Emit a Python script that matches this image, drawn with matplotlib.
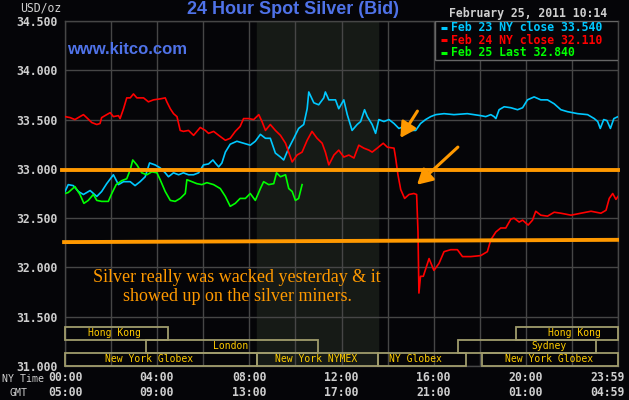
# kitco 24 hour spot silver chart


import matplotlib
matplotlib.use('Agg')
import matplotlib.pyplot as plt
from matplotlib.patches import Rectangle

# Feb 23 NY close (cyan)
cyan_hours = [0, 0.14, 0.36, 0.58, 0.8, 1.09, 1.38, 1.59, 1.81, 2.1, 2.32, 2.54, 2.83, 3.04, 3.26, 3.48,
              3.67, 3.91, 4.13, 4.35, 4.49, 4.71, 4.93, 5.14, 5.36, 5.58, 5.8, 6.01, 6.23, 6.42, 6.52,
              6.67, 6.81, 6.96, 7.17, 7.46, 7.75, 8.04, 8.26, 8.48, 8.7, 8.91, 9.13, 9.35, 9.49, 9.71,
              9.93, 10.14, 10.36, 10.51, 10.58, 10.8, 11.01, 11.23, 11.3, 11.45, 11.74, 11.88, 12.1,
              12.25, 12.46, 12.68, 12.83, 13.0, 13.12, 13.33, 13.48, 13.62, 13.84, 14.06, 14.28, 14.49,
              14.71, 15.0, 15.22, 15.43, 15.65, 15.87, 16.09, 16.45, 16.88, 17.46, 18.04, 18.26, 18.48,
              18.62, 18.7, 18.84, 19.06, 19.35, 19.64, 19.86, 20.07, 20.36, 20.65, 20.94, 21.23, 21.52,
              21.81, 22.25, 22.68, 22.97, 23.12, 23.23, 23.38, 23.52, 23.67, 23.82, 24.0]
cyan_values = [32.77, 32.84, 32.83, 32.77, 32.74, 32.78, 32.72, 32.77, 32.85, 32.94, 32.84, 32.87, 32.87,
               32.83, 32.87, 32.92, 33.06, 33.04, 33.01, 32.96, 32.92, 32.96, 32.94, 32.96, 32.94, 32.94,
               32.96, 33.04, 33.05, 33.09, 33.06, 33.02, 33.06, 33.17, 33.25, 33.28, 33.26, 33.24, 33.28,
               33.35, 33.31, 33.31, 33.16, 33.12, 33.09, 33.21, 33.31, 33.41, 33.45, 33.61, 33.78, 33.67,
               33.65, 33.72, 33.78, 33.70, 33.70, 33.61, 33.70, 33.55, 33.39, 33.45, 33.48, 33.60, 33.53,
               33.45, 33.36, 33.50, 33.48, 33.50, 33.46, 33.41, 33.43, 33.39, 33.39, 33.46, 33.50, 33.53,
               33.55, 33.56, 33.55, 33.56, 33.54, 33.53, 33.55, 33.53, 33.51, 33.60, 33.63, 33.62, 33.60,
               33.62, 33.70, 33.73, 33.70, 33.70, 33.66, 33.60, 33.58, 33.56, 33.55, 33.51, 33.48, 33.41,
               33.50, 33.49, 33.41, 33.51, 33.53]

# Feb 24 NY close (red)
red_hours = [0, 0.22, 0.43, 0.65, 0.8, 0.94, 1.16, 1.38, 1.52, 1.59, 1.81, 1.96, 2.1, 2.32, 2.39, 2.54,
             2.68, 2.83, 2.97, 3.12, 3.41, 3.62, 3.84, 4.13, 4.35, 4.42, 4.57, 4.71, 4.86, 5.0, 5.14,
             5.36, 5.58, 5.87, 6.09, 6.23, 6.45, 6.67, 6.96, 7.17, 7.39, 7.6, 7.75, 7.97, 8.19, 8.41,
             8.55, 8.7, 8.91, 9.13, 9.35, 9.57, 9.86, 10.07, 10.29, 10.51, 10.72, 10.94, 11.16, 11.3,
             11.45, 11.67, 11.88, 12.1, 12.32, 12.54, 12.75, 12.97, 13.19, 13.33, 13.55, 13.81, 13.99,
             14.28, 14.35, 14.45, 14.57, 14.74, 14.93, 15.14, 15.26, 15.32, 15.36, 15.43, 15.55, 15.8,
             16.01, 16.23, 16.45, 16.74, 17.03, 17.25, 17.61, 18.04, 18.33, 18.48, 18.7, 18.91, 19.13,
             19.35, 19.49, 19.71, 19.86, 20.1, 20.29, 20.43, 20.65, 20.94, 21.23, 21.52, 21.96, 22.39,
             22.83, 23.26, 23.48, 23.62, 23.77, 23.91, 24.0]
red_values = [33.53, 33.52, 33.50, 33.53, 33.55, 33.52, 33.47, 33.45, 33.46, 33.52, 33.55, 33.57, 33.53,
              33.54, 33.51, 33.61, 33.72, 33.72, 33.76, 33.72, 33.72, 33.68, 33.70, 33.71, 33.72, 33.68,
              33.61, 33.56, 33.53, 33.39, 33.38, 33.39, 33.34, 33.42, 33.39, 33.36, 33.38, 33.34, 33.29,
              33.31, 33.38, 33.43, 33.51, 33.51, 33.50, 33.55, 33.48, 33.39, 33.45, 33.39, 33.34, 33.26,
              33.07, 33.14, 33.17, 33.29, 33.38, 33.31, 33.26, 33.17, 33.04, 33.14, 33.19, 33.12, 33.14,
              33.11, 33.24, 33.21, 33.19, 33.17, 33.21, 33.26, 33.22, 33.21, 33.11, 32.94, 32.79, 32.70,
              32.74, 32.75, 32.74, 32.36, 31.74, 31.91, 31.91, 32.09, 31.97, 32.04, 32.16, 32.18, 32.18,
              32.11, 32.11, 32.12, 32.16, 32.28, 32.36, 32.40, 32.40, 32.49, 32.50, 32.46, 32.48, 32.43,
              32.48, 32.57, 32.53, 32.52, 32.56, 32.55, 32.53, 32.55, 32.57, 32.55, 32.58, 32.70, 32.75,
              32.69, 32.72]

# Feb 25 last (green)
green_hours = [0, 0.14, 0.43, 0.65, 0.82, 1.01, 1.23, 1.38, 1.59, 1.88, 2.03, 2.22, 2.46, 2.68, 2.83,
               2.94, 3.12, 3.33, 3.55, 3.77, 3.99, 4.13, 4.35, 4.57, 4.78, 5.0, 5.22, 5.29, 5.51, 5.72,
               5.94, 6.16, 6.45, 6.74, 6.96, 7.17, 7.39, 7.6, 7.83, 8.04, 8.26, 8.48, 8.62, 8.84, 9.06,
               9.18, 9.35, 9.57, 9.71, 9.86, 10.0, 10.14, 10.29]
green_values = [32.75, 32.76, 32.82, 32.74, 32.65, 32.68, 32.74, 32.68, 32.67, 32.67, 32.75, 32.84, 32.88,
                32.90, 32.99, 33.09, 33.04, 32.96, 32.94, 32.97, 32.96, 32.89, 32.77, 32.68, 32.67, 32.70,
                32.75, 32.89, 32.87, 32.85, 32.84, 32.86, 32.84, 32.80, 32.72, 32.62, 32.65, 32.70, 32.70,
                32.75, 32.68, 32.80, 32.87, 32.84, 32.85, 32.96, 32.92, 32.94, 32.80, 32.77, 32.68, 32.70,
                32.84]

# hand drawn orange lines
upper_hours = [-0.13, 24.0]
upper_values = [32.99, 32.99]
lower_hours = [-0.04, 23.96]
lower_values = [32.257, 32.28]

legend_labels = ['Feb 23 NY close 33.540', 'Feb 24 NY close 32.110', 'Feb 25 Last 32.840']
legend_colors = ['#00c8ff', '#ff0000', '#00ff00']

ny_labels = ['00:00', '04:00', '08:00', '12:00', '16:00', '20:00', '23:59']
gmt_labels = ['05:00', '09:00', '13:00', '17:00', '21:00', '01:00', '04:59']
tick_hours = [0, 3.95, 8, 12, 16, 20, 23.55]

session_names = ['Hong Kong', 'Hong Kong', 'London', 'Sydney',
                 'New York Globex', 'New York NYMEX', 'NY Globex', 'New York Globex']
session_start = [0, 19.56, 3.53, 17.04, 0, 8.35, 13.57, 18.1]
session_end = [4.46, 24, 10.98, 23.04, 8.35, 13.57, 17.4, 24]
session_row = [0, 0, 1, 1, 2, 2, 2, 2]
session_text_x = [2.13, 22.1, 7.17, 21.0, 3.65, 10.9, 15.2, 21.0]

nymex_open, nymex_close = 8.35, 13.6

bg = '#050508'
gridc = '#464646'
grey = '#cfcfcf'
blue = '#4f72e8'
orange = '#ff9900'
mono = 'DejaVu Sans Mono'

fig = plt.figure(figsize=(6.29, 4.0), dpi=100, facecolor=bg)
ax = fig.add_axes([65 / 629, 1 - 366 / 400, 553 / 629, 345 / 400])
ax.set_facecolor(bg)
ax.set_xlim(0, 24)
ax.set_ylim(31.0, 34.5)

ax.axvspan(nymex_open, nymex_close, color='#161a16', zorder=0)

ax.set_xticks(range(0, 25, 2))
ax.set_xticklabels([])
ax.set_yticks([31.0, 31.5, 32.0, 32.5, 33.0, 33.5, 34.0, 34.5])
ax.set_yticklabels(['%.3f' % v for v in ax.get_yticks()], family=mono, weight='bold',
                   fontsize=8.3, color=grey)
ax.tick_params(length=0, pad=5)
ax.grid(color=gridc, lw=1)
ax.set_axisbelow(True)
for s in ax.spines.values():
    s.set_color(gridc)
    s.set_linewidth(1)

ax.plot(cyan_hours, cyan_values, color=legend_colors[0], lw=1.2, zorder=3)
ax.plot(red_hours, red_values, color=legend_colors[1], lw=1.2, zorder=3)
ax.plot(green_hours, green_values, color=legend_colors[2], lw=1.2, zorder=3)

ax.plot(upper_hours, upper_values, color=orange, lw=2.8, clip_on=False, zorder=5)
ax.plot(lower_hours, lower_values, color=orange, lw=2.8, clip_on=False, zorder=5)

arrow = dict(arrowstyle='-|>,head_length=0.9,head_width=0.5', color=orange, lw=2.2)
ax.annotate('', xy=(14.49, 33.29), xytext=(15.36, 33.61), arrowprops=arrow, zorder=6)
ax.annotate('', xy=(15.19, 32.82), xytext=(17.14, 33.24), arrowprops=arrow, zorder=6)

ax.text(7.47, 31.80, 'Silver really was wacked yesterday & it\nshowed up on the silver miners.',
        family='Liberation Serif', fontsize=13, color=orange, ha='center', va='center',
        linespacing=1.2, zorder=6)

# trading session boxes
row_h = (31.4 - 31.0) / 3
for name, s, e, r, tx in zip(session_names, session_start, session_end, session_row, session_text_x):
    y0 = 31.4 - (r + 1) * row_h
    ax.add_patch(Rectangle((s, y0), e - s, row_h, fill=False, edgecolor='#a09c6c', lw=1.3,
                           zorder=4, clip_on=False))
    ax.text(tx, y0 + row_h / 2, name, family=mono, fontsize=7, color='#ffcc00',
            ha='center', va='center', zorder=5)

# legend box
ax.add_patch(Rectangle((16.04, 34.104), 24 - 16.04, 34.5 - 34.104, facecolor=bg,
                       edgecolor='#666666', lw=1, zorder=7))
for i, (lab, col) in enumerate(zip(legend_labels, legend_colors)):
    yy = 34.429 - i * 0.125
    ax.plot([16.33, 16.59], [yy, yy], color=col, lw=2.2, zorder=8, solid_capstyle='butt')
    ax.text(16.77, yy, lab, family=mono, weight='bold', fontsize=8.3, color=col,
            va='center', ha='left', zorder=8)

# time axis labels
tr = ax.get_xaxis_transform()
for h, a, b in zip(tick_hours, ny_labels, gmt_labels):
    ax.text(h, -0.034, a, transform=tr, family=mono, weight='bold', fontsize=8.3,
            color=grey, ha='center', va='center', clip_on=False)
    ax.text(h, -0.077, b, transform=tr, family=mono, weight='bold', fontsize=8.3,
            color=grey, ha='center', va='center', clip_on=False)
fig.text(44 / 629, 1 - 379 / 400, 'NY Time', family=mono, fontsize=7.1, color=grey,
         ha='right', va='center')
fig.text(19 / 629, 1 - 393 / 400, 'GMT', family=mono, fontsize=7.1, color=grey,
         ha='center', va='center')

fig.text(41 / 629, 1 - 8 / 400, 'USD/oz', family=mono, fontsize=8.3, color=grey,
         ha='center', va='center')
fig.text(293 / 629, 1 - 10 / 400, '24 Hour Spot Silver (Bid)', family='Liberation Sans',
         weight='bold', fontsize=13, color=blue, ha='center', va='center')
fig.text(607 / 629, 1 - 14 / 400, 'February 25, 2011 10:14', family=mono, weight='bold',
         fontsize=8.3, color=grey, ha='right', va='center')
fig.text(67 / 629, 1 - 49 / 400, 'www.kitco.com', family='Liberation Sans', weight='bold',
         fontsize=12, color=blue, ha='left', va='center')

fig.savefig('out.png', dpi=100, facecolor=bg)
